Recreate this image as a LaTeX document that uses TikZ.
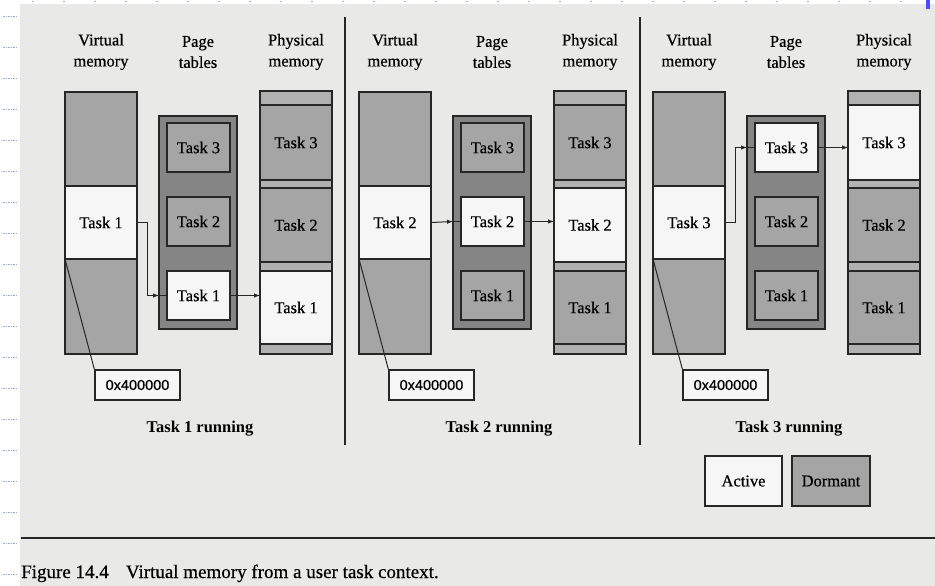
\documentclass[tikz,border=0pt]{standalone}
\usepackage{fontspec}
\setmainfont{Liberation Serif}[UprightFeatures={FakeBold=0.5}]
\newfontfamily\addrfont{Liberation Sans}[FakeBold=0.4]
\usetikzlibrary{arrows.meta}
\definecolor{bgc}{HTML}{E9E9E7}
\definecolor{dormc}{HTML}{A5A5A5}
\definecolor{ptc}{HTML}{858585}
\definecolor{bandc}{HTML}{B1B1B1}
\definecolor{actc}{HTML}{F6F6F6}
\definecolor{edgec}{HTML}{262626}
\definecolor{bluemark}{HTML}{9AA8E0}
\newcommand{\rb}[7]{\node[#2, minimum width={(#5)-(#3)}, minimum height={(#6)-(#4)}] (#1) at ({((#3)+(#5))/2},{((#4)+(#6))/2}) {#7};}
\newcommand{\mypanel}[5]{%
  \tikzset{s1/.style=dorm, s2/.style=dorm, s3/.style=dorm, s#3/.style=act}%
  \def\dx{#2}%
  \node[head] (#1hv) at (101+\dx,52) {Virtual\\memory};
  \node[head] (#1hp) at (198+\dx,52) {Page\\tables};
  \node[head] (#1hm) at (296+\dx,52) {Physical\\memory};
  \rb{#1vt}{dorm}{65+\dx}{92}{137+\dx}{186}{}
  \rb{#1va}{act}{65+\dx}{186}{137+\dx}{259}{#4}
  \rb{#1vb}{dorm}{65+\dx}{259}{137+\dx}{354}{}
  \rb{#1po}{ptout}{159+\dx}{116}{237+\dx}{329}{}
  \rb{#1p3}{s3}{167+\dx}{123}{230+\dx}{172}{Task 3}
  \rb{#1p2}{s2}{167+\dx}{197}{230+\dx}{246}{Task 2}
  \rb{#1p1}{s1}{167+\dx}{271}{230+\dx}{320}{Task 1}
  \rb{#1ba}{band}{260+\dx}{91}{332+\dx}{105}{}
  \rb{#1m3}{s3}{260+\dx}{105}{332+\dx}{180}{Task 3}
  \rb{#1bb}{band}{260+\dx}{180}{332+\dx}{188}{}
  \rb{#1m2}{s2}{260+\dx}{188}{332+\dx}{262}{Task 2}
  \rb{#1bc}{band}{260+\dx}{262}{332+\dx}{271}{}
  \rb{#1m1}{s1}{260+\dx}{271}{332+\dx}{344}{Task 1}
  \rb{#1bd}{band}{260+\dx}{344}{332+\dx}{354}{}
  \rb{#1ad}{addr}{95+\dx}{370}{180+\dx}{400}{0x400000}
  \draw[leader] (#1vb.north west) -- (#1ad.north west);
  \node[run] (#1run) at (#5,429) {Task #3 running};
}
\begin{document}
\begin{tikzpicture}[x=1pt,y=-1pt,
  blk/.style={draw=edgec, line width=1.3pt, inner sep=0pt, outer sep=0pt,
    font=\fontsize{16.5}{18}\selectfont},
  dorm/.style={blk, fill=dormc},
  act/.style={blk, fill=actc},
  ptout/.style={blk, fill=ptc},
  band/.style={blk, fill=bandc},
  addr/.style={draw=edgec, line width=1.2pt, fill=actc, inner sep=0pt,
    font=\addrfont\fontsize{14.5}{16}\selectfont},
  head/.style={align=center, inner sep=0pt, font=\fontsize{16.5}{21}\selectfont},
  run/.style={inner sep=0pt, font=\bfseries\fontsize{16.5}{18}\selectfont},
  leader/.style={draw=edgec, line width=1pt},
  conn/.style={draw=edgec, line width=1pt},
  tip/.style={-{Latex[length=6pt,width=4.5pt]}},
  divider/.style={draw=edgec, line width=1.4pt}]
\useasboundingbox (0,0) rectangle (935,586);
\fill[white] (0,0) rectangle (935,586);
\fill[bgc] (20,4) rectangle (935,586);
% scan artefacts
\foreach \k in {0,...,18} {
  \draw[bluemark, line width=0.6pt, dash pattern=on 1.5pt off 1pt] (3,{16+31*\k}) -- (18,{16+31*\k});
}
\foreach \k in {1,...,29} {
  \fill[bluemark] ({2+31*\k},1.5) circle (0.9);
}
\fill[blue!70] (926,0) rectangle (930,9);
% panels
\mypanel{A}{0}{1}{Task 1}{200}
\mypanel{B}{294}{2}{Task 2}{499}
\mypanel{C}{588}{3}{Task 3}{789}
% dividers
\draw[divider] (345,17) -- (345,445);
\draw[divider] (640,17) -- (640,445);
% connectors panel 1
\draw[conn,tip] (Ava.east) -- ++(10,0) |- (Apo.west |- Ap1);
\draw[conn] (Apo.west |- Ap1) -- (Ap1.west);
\draw[conn,tip] (Ap1.east) -- (Am1.west |- Ap1);
% connectors panel 2
\draw[conn,tip] (Bva.east) -- (Bpo.west |- Bp2);
\draw[conn] (Bpo.west |- Bp2) -- (Bp2.west);
\draw[conn,tip] (Bp2.east) -- (Bm2.west |- Bp2);
% connectors panel 3
\draw[conn,tip] (Cva.east) -- ++(10,0) |- (Cpo.west |- Cp3);
\draw[conn] (Cpo.west |- Cp3) -- (Cp3.west);
\draw[conn,tip] (Cp3.east) -- (Cm3.west |- Cp3);
% legend
\rb{legA}{act}{705}{456}{782}{506}{Active}
\rb{legD}{dorm}{792}{456}{870}{506}{Dormant}
% rule and caption
\draw[line width=1.5pt, edgec] (21,538) -- (935,538);
\node[anchor=base west, inner sep=0pt, font=\fontsize{19}{21}\selectfont] (cap) at (21,578)
  {Figure 14.4\hspace{0.9em}Virtual memory from a user task context.};
\end{tikzpicture}
\end{document}
